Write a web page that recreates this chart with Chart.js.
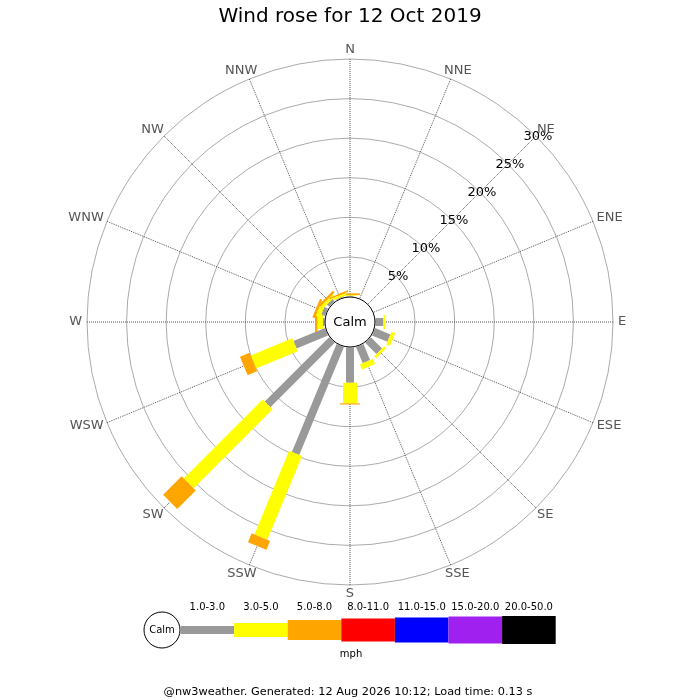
<!DOCTYPE html>
<html>
<head>
<meta charset="utf-8">
<title>Wind rose</title>
<script src="https://cdn.jsdelivr.net/npm/chart.js@4/dist/chart.umd.min.js"></script>
<style>
  body { margin: 0; background: #fff; }
  canvas { display: block; }
</style>
</head>
<body>
<canvas id="windrose-chart" width="700" height="700"></canvas>
<script>
// Data (percent of the day in each direction / speed band)
var directions = ["N", "NNE", "NE", "ENE", "E", "ESE", "SE", "SSE",
                  "S", "SSW", "SW", "WSW", "W", "WNW", "NW", "NNW"];
var speedBands = ["1.0-3.0", "3.0-5.0", "5.0-8.0", "8.0-11.0", "11.0-15.0", "15.0-20.0", "20.0-50.0"];
var band1to3 = [0.1, 0, 0, 0, 1.0, 2.1, 2.0, 2.2, 4.45, 14.75, 11.5, 4.3, 0.2, 0.5, 0.4, 0.1];
var band3to5 = [0.1, 0, 0, 0, 0.2, 0.5, 0.35, 0.7, 2.6, 11.45, 14.1, 5.7, 0.7, 0.6, 0.4, 0.3];
var band5to8 = [0.2, 0, 0, 0, 0, 0, 0, 0, 0.15, 1.2, 3.3, 1.3, 0.3, 0.3, 0.3, 0.2];
var tickValues = [5, 10, 15, 20, 25, 30];

// styles
var bandColours = ["#999999", "#ffff00", "#ffa500", "#ff0000", "#0000ff", "#a020f0", "#000000"];
var bandWidths = [8, 14, 20, 23, 25, 27, 28];
var axisStart = -3.22; // leaves room for the calm circle
var font = "DejaVu Sans";

var windRosePlugin = {
  id: "windRose",
  afterDatasetsDraw: function (chart) {
    var ctx = chart.ctx;
    var scale = chart.scales.r;
    ctx.save();

    // stacked bars along each direction
    ctx.lineCap = "butt";
    directions.forEach(function (dir, i) {
      var base = 0;
      chart.data.datasets.forEach(function (ds, b) {
        var v = ds.data[i];
        if (!v) return;
        var p0 = scale.getPointPositionForValue(i, base);
        var p1 = scale.getPointPositionForValue(i, base + v);
        ctx.beginPath();
        ctx.moveTo(p0.x, p0.y);
        ctx.lineTo(p1.x, p1.y);
        ctx.lineWidth = bandWidths[b];
        ctx.strokeStyle = bandColours[b];
        ctx.stroke();
        base += v;
      });
    });

    // calm circle
    ctx.beginPath();
    ctx.arc(scale.xCenter, scale.yCenter, 25, 0, Math.PI * 2);
    ctx.fillStyle = "#fff";
    ctx.fill();
    ctx.lineWidth = 1;
    ctx.strokeStyle = "#000";
    ctx.stroke();
    ctx.fillStyle = "#000";
    ctx.font = "13px '" + font + "'";
    ctx.textAlign = "center";
    ctx.textBaseline = "middle";
    ctx.fillText("Calm", scale.xCenter, scale.yCenter + 1);

    // percent labels along NE
    tickValues.forEach(function (v) {
      var p = scale.getPointPositionForValue(2, v);
      ctx.fillText(v + "%", p.x + 2, p.y + 1);
    });

    // direction labels
    ctx.fillStyle = "#555";
    directions.forEach(function (dir, i) {
      var a = scale.getIndexAngle(i);
      var p = scale.getPointPosition(i, scale.drawingArea + 5);
      var w = ctx.measureText(dir).width;
      ctx.fillText(dir, p.x + (w / 2) * Math.sin(a), p.y - 4 * Math.cos(a));
    });

    // speed legend
    var x0 = 180.5, step = 53.6, ly = 630;
    ctx.beginPath();
    ctx.arc(162, ly, 18, 0, Math.PI * 2);
    ctx.fillStyle = "#fff";
    ctx.fill();
    ctx.strokeStyle = "#000";
    ctx.lineWidth = 1;
    ctx.stroke();
    ctx.fillStyle = "#000";
    ctx.font = "10px '" + font + "'";
    ctx.fillText("Calm", 162, ly);
    speedBands.forEach(function (label, b) {
      var x = x0 + b * step;
      ctx.fillStyle = bandColours[b];
      ctx.fillRect(x, ly - bandWidths[b] / 2, step, bandWidths[b]);
      ctx.fillStyle = "#000";
      ctx.fillText(label, x + step / 2, 607);
    });
    ctx.fillText("mph", 351, 654);

    ctx.font = "11.3px '" + font + "'";
    ctx.fillText("@nw3weather. Generated: 12 Aug 2026 10:12; Load time: 0.13 s", 348, 692);
    ctx.restore();
  }
};

var ctx = document.getElementById("windrose-chart").getContext("2d");
var chart = new Chart(ctx, {
  type: "radar",
  data: {
    labels: directions,
    datasets: [
      { label: speedBands[0], data: band1to3 },
      { label: speedBands[1], data: band3to5 },
      { label: speedBands[2], data: band5to8 },
    ],
  },
  options: {
    responsive: false,
    animation: false,
    events: [],
    devicePixelRatio: 1,
    layout: { padding: { top: 5, left: 87, right: 87, bottom: 115 } },
    elements: {
      line: { borderWidth: 0, borderColor: "transparent", backgroundColor: "transparent", fill: false },
      point: { radius: 0 },
    },
    scales: {
      r: {
        min: axisStart,
        max: 30,
        ticks: { display: false, stepSize: 5 },
        afterBuildTicks: function (scale) {
          scale.ticks = tickValues.map(function (v) { return { value: v }; });
        },
        grid: { circular: true, color: "#aaaaaa", lineWidth: 1 },
        angleLines: { color: "#555555", lineWidth: 1, borderDash: [1, 1] },
        pointLabels: { display: false },
      },
    },
    plugins: {
      legend: { display: false },
      tooltip: { enabled: false },
      title: {
        display: true,
        text: "Wind rose for 12 Oct 2019",
        color: "#000",
        font: { family: font, size: 20, weight: "normal" },
        padding: { top: 0, bottom: 30 },
      },
    },
  },
  plugins: [windRosePlugin],
});
</script>
</body>
</html>
